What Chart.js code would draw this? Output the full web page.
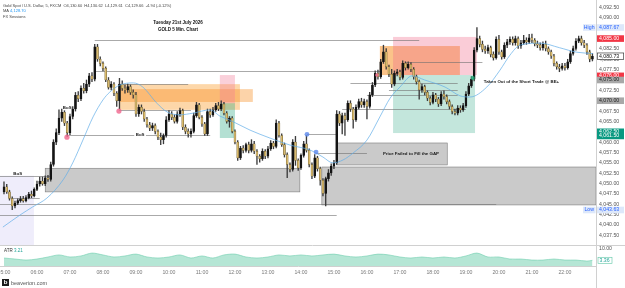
<!DOCTYPE html>
<html>
<head>
<meta charset="utf-8">
<script src="https://cdn.jsdelivr.net/npm/chart.js@4.4.1/dist/chart.umd.min.js"></script>
<style>
  html, body { margin: 0; padding: 0; background: #fff; overflow: hidden; }
  #wrap { position: relative; width: 625px; height: 288px; }
</style>
</head>
<body>
<div id="wrap"><canvas id="chart" width="625" height="288"></canvas></div>
<script>
// 5 min candles from 05:00, one row per hour
const opens = [
  4048.0,4049.2,4048.0,4046.4,4044.6,4045.3,4045.9,4046.3,4045.9,4046.6,4047.4,4047.0,
  4048.6,4049.9,4050.6,4050.0,4051.4,4051.0,4054.6,4060.0,4062.3,4065.8,4067.2,4064.6,
  4062.3,4066.2,4068.0,4071.3,4070.5,4073.0,4072.4,4074.0,4076.0,4075.2,4083.0,4080.0,
  4079.0,4077.8,4075.0,4073.2,4074.0,4071.8,4070.0,4074.0,4073.0,4072.6,4073.4,4072.0,
  4071.4,4066.8,4068.4,4067.4,4065.6,4064.2,4063.4,4064.0,4062.6,4061.2,4060.6,4061.6,
  4065.4,4066.8,4066.0,4065.0,4066.8,4067.6,4063.6,4062.6,4062.0,4062.6,4066.4,4069.0,
  4066.0,4064.4,4062.0,4067.4,4066.6,4067.8,4068.8,4068.0,4069.2,4067.0,4065.0,4065.8,
  4062.6,4060.0,4056.2,4058.6,4058.0,4059.4,4058.0,4059.6,4057.8,4056.6,4056.0,4057.8,
  4056.6,4058.4,4059.8,4059.0,4064.6,4061.6,4059.4,4057.0,4054.6,4053.4,4060.0,4055.6,
  4053.8,4056.8,4059.6,4058.0,4054.6,4051.8,4056.2,4053.6,4050.8,4047.6,4051.2,4052.6,
  4054.2,4055.0,4066.8,4064.6,4066.4,4065.4,4069.4,4068.0,4065.4,4068.4,4069.8,4069.0,
  4069.8,4068.6,4071.4,4073.8,4076.6,4075.8,4079.4,4081.8,4078.2,4076.4,4074.0,4076.6,
  4077.0,4075.6,4079.0,4078.0,4078.8,4077.6,4075.8,4074.6,4072.6,4073.4,4072.0,4070.6,
  4069.6,4071.4,4070.4,4069.2,4071.6,4071.0,4069.8,4068.6,4067.4,4067.0,4068.2,4067.8,
  4068.8,4071.6,4073.6,4075.2,4082.2,4085.0,4083.6,4082.4,4082.0,4082.8,4081.2,4080.4,
  4084.8,4081.8,4080.6,4083.4,4084.2,4084.8,4084.0,4085.0,4083.2,4084.0,4084.6,4084.2,
  4085.2,4084.6,4083.8,4083.4,4082.8,4083.6,4082.6,4081.8,4080.8,4079.0,4078.2,4077.8,
  4078.4,4078.0,4079.4,4081.4,4082.6,4084.4,4085.0,4084.0,4083.4,4081.8,4080.0
];
const highs = [
  4050.4,4049.8,4048.4,4046.8,4045.8,4046.3,4046.9,4046.9,4047.1,4047.9,4048.2,4049.0,
  4050.6,4051.6,4051.6,4051.9,4052.0,4055.2,4060.6,4063.2,4067.8,4068.0,4067.6,4065.0,
  4066.8,4068.6,4072.0,4072.2,4073.6,4074.2,4075.0,4076.6,4076.8,4083.6,4083.6,4080.6,
  4079.4,4078.2,4075.6,4074.6,4074.4,4072.2,4075.4,4074.8,4073.8,4074.0,4073.8,4072.6,
  4072.0,4069.0,4069.0,4068.0,4066.0,4064.8,4064.6,4064.4,4063.0,4062.2,4062.0,4066.2,
  4067.6,4067.4,4066.6,4067.4,4068.2,4068.0,4064.2,4063.2,4063.2,4067.0,4069.6,4069.4,
  4066.4,4064.8,4068.0,4068.0,4068.4,4069.4,4069.6,4070.0,4069.6,4067.4,4066.2,4066.2,
  4063.0,4060.4,4059.0,4059.2,4059.8,4060.0,4060.6,4060.2,4058.2,4057.0,4058.4,4058.2,
  4059.0,4060.4,4060.2,4065.4,4065.0,4062.0,4059.8,4057.4,4055.0,4060.6,4061.4,4056.0,
  4057.2,4060.2,4061.6,4058.4,4055.0,4057.0,4056.6,4054.0,4051.2,4051.6,4053.4,4054.8,
  4055.6,4067.6,4067.4,4067.0,4067.0,4070.0,4070.0,4068.4,4069.0,4070.4,4070.6,4070.4,
  4070.2,4072.0,4074.4,4077.2,4077.4,4080.0,4083.4,4082.6,4078.6,4077.6,4077.2,4077.6,
  4077.4,4079.6,4079.4,4079.4,4079.2,4078.0,4076.2,4075.0,4074.0,4073.8,4072.4,4071.0,
  4072.0,4071.8,4070.8,4072.2,4072.4,4071.4,4070.2,4069.0,4068.0,4068.8,4068.8,4069.4,
  4072.2,4074.2,4075.8,4082.8,4087.67,4085.6,4084.4,4083.2,4083.4,4083.2,4081.8,4085.4,
  4085.8,4082.2,4084.0,4084.8,4085.4,4085.4,4085.6,4085.4,4084.6,4085.8,4085.2,4086.0,
  4086.1,4085.0,4084.4,4084.0,4084.2,4084.4,4083.0,4082.2,4081.2,4079.4,4078.8,4079.0,
  4079.0,4080.0,4082.0,4083.2,4085.0,4085.6,4085.6,4084.6,4083.8,4082.2,4081.4
];
const lows = [
  4047.5,4047.6,4046.0,4043.7,4044.1,4044.9,4045.5,4045.5,4045.6,4046.3,4046.6,4046.8,
  4048.3,4049.4,4049.6,4049.5,4050.5,4050.6,4054.2,4059.4,4061.8,4065.0,4064.0,4061.4,
  4061.8,4065.6,4067.5,4069.8,4070.0,4071.8,4071.9,4073.4,4074.6,4074.8,4079.5,4078.4,
  4077.2,4074.6,4072.8,4072.6,4071.2,4068.6,4068.0,4072.5,4071.8,4072.0,4071.5,4070.6,
  4066.2,4066.2,4066.8,4065.0,4063.6,4062.8,4062.8,4062.0,4060.6,4059.4,4059.6,4061.2,
  4065.0,4065.4,4064.6,4064.6,4066.2,4063.0,4062.0,4061.2,4061.2,4062.2,4066.0,4065.6,
  4063.8,4061.6,4061.6,4066.0,4066.2,4067.4,4067.6,4067.6,4066.6,4064.6,4063.6,4062.2,
  4059.6,4055.6,4055.8,4057.4,4057.6,4057.4,4057.6,4057.2,4054.6,4055.2,4055.6,4056.0,
  4056.2,4058.0,4058.4,4058.6,4061.2,4059.0,4056.4,4051.4,4052.8,4053.0,4054.4,4053.2,
  4053.4,4056.4,4057.6,4054.0,4051.2,4051.4,4053.0,4049.6,4047.0,4044.6,4050.6,4052.0,
  4053.6,4054.6,4064.0,4062.0,4061.6,4065.0,4067.4,4063.4,4065.0,4068.0,4068.4,4068.4,
  4065.6,4068.2,4071.0,4073.4,4075.2,4075.4,4079.0,4077.6,4075.8,4073.2,4073.6,4076.0,
  4075.0,4075.2,4077.4,4077.6,4077.0,4075.2,4074.0,4070.4,4072.0,4071.4,4070.0,4069.0,
  4069.2,4069.8,4068.6,4068.8,4070.4,4069.2,4068.0,4066.8,4066.6,4066.6,4067.2,4067.4,
  4068.4,4071.2,4073.2,4074.8,4081.8,4083.0,4081.8,4081.4,4081.4,4080.6,4079.8,4080.0,
  4081.2,4080.0,4080.2,4082.8,4083.6,4083.4,4083.4,4082.6,4082.6,4083.6,4083.6,4083.8,
  4084.0,4083.2,4082.8,4082.2,4082.2,4082.0,4081.2,4080.2,4078.4,4077.6,4077.0,4077.4,
  4077.4,4077.6,4079.0,4081.0,4082.2,4084.0,4083.4,4082.8,4081.2,4079.4,4079.6
];
const closes = [
  4049.2,4048.0,4046.4,4044.6,4045.3,4045.9,4046.3,4045.9,4046.6,4047.4,4047.0,4048.6,
  4049.9,4050.6,4050.0,4051.4,4051.0,4054.6,4060.0,4062.3,4065.8,4067.2,4064.6,4062.3,
  4066.2,4068.0,4071.3,4070.5,4073.0,4072.4,4074.0,4076.0,4075.2,4083.0,4080.0,4079.0,
  4077.8,4075.0,4073.2,4074.0,4071.8,4070.0,4074.0,4073.0,4072.6,4073.4,4072.0,4071.4,
  4066.8,4068.4,4067.4,4065.6,4064.2,4063.4,4064.0,4062.6,4061.2,4060.6,4061.6,4065.4,
  4066.8,4066.0,4065.0,4066.8,4067.6,4063.6,4062.6,4062.0,4062.6,4066.4,4069.0,4066.0,
  4064.4,4062.0,4067.4,4066.6,4067.8,4068.8,4068.0,4069.2,4067.0,4065.0,4065.8,4062.6,
  4060.0,4056.2,4058.6,4058.0,4059.4,4058.0,4059.6,4057.8,4056.6,4056.0,4057.8,4056.6,
  4058.4,4059.8,4059.0,4064.6,4061.6,4059.4,4057.0,4054.6,4053.4,4060.0,4055.6,4053.8,
  4056.8,4059.6,4058.0,4054.6,4051.8,4056.2,4053.6,4050.8,4047.6,4051.2,4052.6,4054.2,
  4055.0,4066.8,4064.6,4066.4,4065.4,4069.4,4068.0,4065.4,4068.4,4069.8,4069.0,4069.8,
  4068.6,4071.4,4073.8,4076.6,4075.8,4079.4,4081.8,4078.2,4076.4,4074.0,4076.6,4077.0,
  4075.6,4079.0,4078.0,4078.8,4077.6,4075.8,4074.6,4072.6,4073.4,4072.0,4070.6,4069.6,
  4071.4,4070.4,4069.2,4071.6,4071.0,4069.8,4068.6,4067.4,4067.0,4068.2,4067.8,4068.8,
  4071.6,4073.6,4075.2,4082.2,4085.0,4083.6,4082.4,4082.0,4082.8,4081.2,4080.4,4084.8,
  4081.8,4080.6,4083.4,4084.2,4084.8,4084.0,4085.0,4083.2,4084.0,4084.6,4084.2,4085.2,
  4084.6,4083.8,4083.4,4082.8,4083.6,4082.6,4081.8,4080.8,4079.0,4078.2,4077.8,4078.4,
  4078.0,4079.4,4081.4,4082.6,4084.4,4085.0,4084.0,4083.4,4081.8,4080.0,4080.73
];

// moving average (bar index, price)
const maIdx = [-0.4, 5.8, 10.5, 15.6, 21.5, 25, 28.7, 32.4, 36, 38.5, 42.2, 47, 50.5, 55.6, 59.3, 64, 68.7, 75,
  78.5, 82.2, 89.5, 96.7, 104, 111.3, 116, 119.6, 123.3, 127, 132, 136.7, 140.4, 144, 148.4, 153, 160.4,
  165.8, 169.5, 175.6, 180.4, 184, 187.6, 195, 202, 208.4, 214.2];
const maVal = [4039.5, 4042.4, 4044.4, 4046.5, 4050.9, 4055.0, 4060.5, 4066.1, 4070.2, 4072.1, 4073.8, 4074.3,
  4073.3, 4069.4, 4067.3, 4066.6, 4067.0, 4067.8, 4066.3, 4065.3, 4062.9, 4061.0, 4059.3, 4058.1, 4056.4,
  4055.0, 4055.7, 4057.4, 4060.5, 4066.1, 4070.6, 4073.3, 4076.0, 4075.0, 4073.3, 4071.2, 4070.9, 4073.3,
  4077.4, 4081.0, 4083.4, 4083.9, 4082.8, 4081.7, 4081.4];

// ATR pane
const atrIdx = [0, 4, 8, 12, 16, 20, 24, 28, 32, 36, 40, 44, 48, 52, 56, 60, 64, 68, 72, 76, 80, 84, 88, 92,
  96, 100, 104, 108, 112, 116, 120, 124, 128, 132, 136, 140, 144, 148, 152, 156, 160, 164, 168, 172, 176,
  180, 184, 188, 192, 196, 200, 204, 208, 212, 214];
const atrVal = [4.7, 4.1, 3.5, 4.1, 5.3, 6.5, 5.3, 5.9, 7.6, 6.5, 5.3, 5.9, 7.0, 5.3, 4.7, 5.3, 6.5, 4.7, 5.9,
  4.7, 6.5, 7.0, 5.3, 4.7, 5.3, 6.5, 5.9, 6.5, 5.9, 6.5, 7.0, 5.9, 5.3, 5.9, 7.0, 6.5, 5.3, 4.7, 5.3, 4.7,
  5.3, 4.7, 5.9, 7.6, 5.3, 5.3, 4.1, 4.1, 3.5, 3.5, 4.1, 3.5, 3.5, 2.9, 3.36];

const priceMin = 4035.18, priceMax = 4094.31;
const FONT = '"Liberation Sans", Arial, sans-serif';

// drawn zones (bar index range, price range)
const zones = [
  { from: -1.45, to: 10.9, top: 4051.9, bottom: priceMin, fill: 'rgba(150,135,230,0.15)' },
  { from: 15, to: 107.6, top: 4053.7, bottom: 4048.0, fill: 'rgba(150,150,150,0.5)', stroke: '#7d7d7d' },
  { from: 115.6, to: 215.3, top: 4054.0, bottom: 4044.85, fill: 'rgba(150,150,150,0.5)', stroke: '#7d7d7d' },
  { from: 121, to: 161.2, top: 4059.8, bottom: 4054.5, fill: 'rgba(150,150,150,0.5)', stroke: '#7d7d7d' },
  { from: 41.8, to: 85.8, top: 4074.0, bottom: 4067.8, fill: 'rgba(251,160,50,0.42)' },
  { from: 41.8, to: 90.5, top: 4072.8, bottom: 4069.7, fill: 'rgba(248,140,30,0.38)' },
  { from: 78.5, to: 84, top: 4076.2, bottom: 4069.4, fill: 'rgba(242,120,150,0.35)' },
  { from: 78.5, to: 84, top: 4069.4, bottom: 4061.0, fill: 'rgba(40,165,130,0.35)' },
  { from: 136.7, to: 165.8, top: 4083.2, bottom: 4076.2, fill: 'rgba(248,145,40,0.55)' },
  { from: 141.5, to: 172, top: 4085.4, bottom: 4076.2, fill: 'rgba(242,110,140,0.35)' },
  { from: 141.5, to: 171.3, top: 4076.2, bottom: 4062.2, fill: 'rgba(40,165,130,0.28)' }
];
const levels = [
  { from: -1.45, to: 16.7, at: 4051.9 },
  { from: 3.3, to: 13, at: 4046.5 },
  { from: -1.45, to: 179, at: 4045.0 },
  { from: -1.45, to: 121, at: 4042.4 },
  { from: 33, to: 151, at: 4084.65 },
  { from: 33, to: 137, at: 4077.2 },
  { from: 41.8, to: 67, at: 4074.0 },
  { from: 41.8, to: 68, at: 4067.8 },
  { from: 22.9, to: 75, at: 4061.7 },
  { from: 110.2, to: 121, at: 4061.9 },
  { from: 113.5, to: 132, at: 4057.3 },
  { from: 126, to: 165, at: 4074.3 },
  { from: 132, to: 165, at: 4071.4 },
  { from: 123, to: 168, at: 4068.0 },
  { from: 146, to: 174, at: 4079.3 },
  { from: 140, to: 165, at: 4072.6 }
];
const dots = [
  { i: 22.9, p: 4061.2, r: 2.6, c: 'rgba(240,100,140,0.8)' },
  { i: 41.8, p: 4067.5, r: 2.6, c: 'rgba(240,100,140,0.8)' },
  { i: 135.6, p: 4076.2, r: 1.8, c: 'rgba(240,100,140,0.8)' },
  { i: 110.2, p: 4061.9, r: 2.4, c: 'rgba(90,135,235,0.8)' },
  { i: 113.5, p: 4057.6, r: 2.4, c: 'rgba(90,135,235,0.8)' },
  { i: 170.5, p: 4075.5, r: 2.0, c: 'rgba(40,175,125,0.85)' }
];
const notes = [
  { i: 5, p: 4052.3, text: 'BoS', align: 'center' },
  { i: 23, p: 4068.4, text: 'BoS', align: 'center' },
  { i: 49.5, p: 4061.7, text: 'BoS', align: 'center', bg: true },
  { i: 137.8, p: 4057.3, text: 'Price Failed to Fill the GAP', align: 'left' },
  { i: 174.5, p: 4074.6, text: 'Taken Out of the Short Trade @ BE+', align: 'left' }
];
const axisTags = [
  { p: 4087.67, text: '4,087.67', bg: '#dde8fa', fg: '#2962ff' },
  { p: 4085.0, text: '4,085.00', bg: '#f23645', fg: '#fff' },
  { p: 4080.73, text: '4,080.73', bg: '#fff', fg: '#111', border: '#222' },
  { p: 4076.0, text: '4,076.00', bg: '#f23645', fg: '#fff' },
  { p: 4075.0, text: '4,075.00', bg: '#a8a8a8', fg: '#222' },
  { p: 4070.0, text: '4,070.00', bg: '#a8a8a8', fg: '#222' },
  { p: 4062.5, text: '4,062.50', bg: '#089981', fg: '#fff' },
  { p: 4061.5, text: '4,061.50', bg: '#089981', fg: '#fff' },
  { p: 4043.63, text: '4,043.63', bg: '#dde8fa', fg: '#2962ff' }
];

const idx = opens.map((_, i) => i);
const isUp = i => closes[i] >= opens[i];
const noPad = s => { s.paddingLeft = 0; s.paddingRight = 0; s.paddingTop = 0; s.paddingBottom = 0; };

const overlay = {
  id: 'overlay',
  beforeDatasetsDraw(chart) {
    const { ctx, chartArea: a, scales: { x, y } } = chart;
    ctx.save();
    ctx.beginPath();
    ctx.rect(a.left, y.top, a.right - a.left, y.bottom - y.top);
    ctx.clip();
    zones.forEach(z => {
      const x0 = x.getPixelForValue(z.from), x1 = x.getPixelForValue(z.to);
      const y0 = y.getPixelForValue(z.top), y1 = y.getPixelForValue(z.bottom);
      ctx.fillStyle = z.fill;
      ctx.fillRect(x0, y0, x1 - x0, y1 - y0);
      if (z.stroke) {
        ctx.strokeStyle = z.stroke;
        ctx.lineWidth = 0.6;
        ctx.strokeRect(x0, y0, x1 - x0, y1 - y0);
      }
    });
    ctx.strokeStyle = '#707070';
    ctx.lineWidth = 0.6;
    levels.forEach(l => {
      const py = Math.round(y.getPixelForValue(l.at)) + 0.5;
      ctx.beginPath();
      ctx.moveTo(x.getPixelForValue(l.from), py);
      ctx.lineTo(x.getPixelForValue(l.to), py);
      ctx.stroke();
    });
    ctx.restore();
  },
  afterDraw(chart) {
    const { ctx, chartArea: a, scales: { x, y, yAtr } } = chart;
    ctx.save();
    // pane separators and price axis border
    ctx.strokeStyle = '#d0d0d0';
    ctx.lineWidth = 1;
    ctx.beginPath();
    ctx.moveTo(0, Math.round(y.bottom) + 0.5); ctx.lineTo(625, Math.round(y.bottom) + 0.5);
    ctx.moveTo(Math.round(a.right) + 0.5, 0); ctx.lineTo(Math.round(a.right) + 0.5, 288);
    ctx.stroke();

    dots.forEach(d => {
      ctx.fillStyle = d.c;
      ctx.beginPath();
      ctx.arc(x.getPixelForValue(d.i), y.getPixelForValue(d.p), d.r, 0, Math.PI * 2);
      ctx.fill();
    });

    ctx.textBaseline = 'middle';
    notes.forEach(n => {
      ctx.font = 'bold 4.4px ' + FONT;
      const px = x.getPixelForValue(n.i), py = y.getPixelForValue(n.p);
      ctx.textAlign = n.align;
      if (n.bg) {
        const w = ctx.measureText(n.text).width + 3;
        ctx.fillStyle = '#fff';
        ctx.fillRect(px - w / 2, py - 3, w, 6);
      }
      ctx.fillStyle = '#1a1a1a';
      ctx.fillText(n.text, px, py);
    });

    // header
    ctx.textAlign = 'left';
    ctx.font = '4px ' + FONT;
    ctx.fillStyle = '#444';
    ctx.fillText('Gold Spot / U.S. Dollar, 5, FXCM  O4,130.60  H4,130.62  L4,129.61  C4,129.66  -4.94 (-0.12%)', 3, 5.5);
    ctx.fillText('MA', 3, 11);
    ctx.fillStyle = '#2196f3';
    ctx.fillText('4,128.70', 3 + ctx.measureText('MA ').width, 11);
    ctx.fillStyle = '#444';
    ctx.fillText('FX Sessions', 3, 16.5);
    ctx.textAlign = 'center';
    ctx.font = 'bold 4.5px ' + FONT;
    ctx.fillStyle = '#111';
    ctx.fillText('Tuesday 21st July 2026', 178, 23);
    ctx.fillText('GOLD 5 Min. Chart', 178, 30);

    // ATR legend
    ctx.textAlign = 'left';
    ctx.font = '4.5px ' + FONT;
    ctx.fillStyle = '#333';
    ctx.fillText('ATR', 4, yAtr.top + 6);
    ctx.fillStyle = '#26a69a';
    ctx.fillText('3.21', 4 + ctx.measureText('ATR ').width, yAtr.top + 6);

    // price axis tags
    ctx.font = '5.2px ' + FONT;
    const ax = a.right + 1;
    axisTags.forEach(t => {
      const py = y.getPixelForValue(t.p);
      ctx.fillStyle = t.bg;
      ctx.fillRect(ax, py - 3.3, 27, 6.6);
      if (t.border) {
        ctx.strokeStyle = t.border;
        ctx.lineWidth = 0.6;
        ctx.strokeRect(ax + 0.3, py - 3.3, 26.4, 6.6);
      }
      ctx.fillStyle = t.fg;
      ctx.fillText(t.text, ax + 2, py);
    });
    [['High', 4087.67], ['Low', 4043.63]].forEach(([label, p]) => {
      const py = y.getPixelForValue(p);
      ctx.fillStyle = '#dde8fa';
      ctx.fillRect(a.right - 13, py - 3.3, 12.5, 6.6);
      ctx.fillStyle = '#2962ff';
      ctx.textAlign = 'center';
      ctx.fillText(label, a.right - 6.8, py);
      ctx.textAlign = 'left';
    });
    const atrY = yAtr.getPixelForValue(atrVal[atrVal.length - 1]);
    ctx.fillStyle = '#fff';
    ctx.fillRect(ax + 1, atrY - 3, 14, 6);
    ctx.strokeStyle = '#5cc6a3';
    ctx.lineWidth = 0.6;
    ctx.strokeRect(ax + 1, atrY - 3, 14, 6);
    ctx.fillStyle = '#26a69a';
    ctx.fillText('3.36', ax + 2.5, atrY);

    // footer brand
    ctx.fillStyle = '#1b1b1b';
    ctx.fillRect(2, 279, 7, 7);
    ctx.fillStyle = '#fff';
    ctx.font = 'bold 6px ' + FONT;
    ctx.textAlign = 'center';
    ctx.fillText('b', 5.5, 282.8);
    ctx.textAlign = 'left';
    ctx.fillStyle = '#555';
    ctx.font = '5.5px ' + FONT;
    ctx.fillText('beaverion.com', 11, 283);
    ctx.restore();
  }
};

new Chart(document.getElementById('chart'), {
  type: 'bar',
  data: {
    datasets: [
      {
        type: 'line', label: 'MA', yAxisID: 'y', order: 0,
        data: maIdx.map((v, k) => ({ x: v, y: maVal[k] })),
        borderColor: '#62aee8', borderWidth: 0.7, pointRadius: 0,
        cubicInterpolationMode: 'monotone'
      },
      {
        type: 'bar', label: 'body', yAxisID: 'y', order: 1, grouped: false,
        data: idx.map(i => ({ x: i, y: [opens[i], closes[i]] })),
        backgroundColor: idx.map(i => isUp(i) ? '#141414' : '#d8b96c'),
        borderColor: idx.map(i => isUp(i) ? '#141414' : '#6b5a2c'),
        borderWidth: 0.5, borderSkipped: false, barThickness: 2, minBarLength: 0.8
      },
      {
        type: 'bar', label: 'wick', yAxisID: 'y', order: 2, grouped: false,
        data: idx.map(i => ({ x: i, y: [lows[i], highs[i]] })),
        backgroundColor: '#3c3c3c', barThickness: 0.7
      },
      {
        type: 'line', label: 'ATR', yAxisID: 'yAtr', order: 3,
        data: atrIdx.map((v, k) => ({ x: v, y: atrVal[k] })),
        borderColor: '#6fcfae', borderWidth: 0.6, pointRadius: 0, tension: 0.3,
        fill: 'origin', backgroundColor: 'rgba(120,210,178,0.55)'
      }
    ]
  },
  options: {
    responsive: false,
    animation: false,
    layout: { padding: { left: 0, right: 0, top: 0, bottom: 12 } },
    plugins: { legend: { display: false }, tooltip: { enabled: false } },
    scales: {
      x: {
        type: 'linear', position: 'bottom', min: -1.45, max: 215.3, offset: false,
        grid: { display: false, drawTicks: false, offset: false },
        border: { display: true, color: '#cfcfcf' },
        afterFit: s => { s.height = 10; noPad(s); },
        ticks: {
          stepSize: 12, includeBounds: false, autoSkip: false, maxRotation: 0, padding: 3,
          color: '#7a7a7a', font: { family: FONT, size: 5.2 },
          callback: v => String(5 + Math.round(v / 12)).padStart(2, '0') + ':00'
        }
      },
      y: {
        type: 'linear', position: 'right', stack: 'panes', stackWeight: 245,
        min: priceMin, max: priceMax,
        grid: { display: false, drawTicks: false },
        border: { display: false },
        afterFit: s => { s.width = 29; noPad(s); },
        ticks: {
          stepSize: 2.5, includeBounds: false, autoSkip: false, padding: 3,
          color: '#555', font: { family: FONT, size: 5.2 },
          callback: v => v.toLocaleString('en-US', { minimumFractionDigits: 2, maximumFractionDigits: 2 })
        }
      },
      yAtr: {
        type: 'linear', position: 'right', stack: 'panes', stackWeight: 21,
        min: 0, max: 12.35,
        grid: { display: false, drawTicks: false },
        border: { display: false },
        afterFit: s => { s.width = 29; noPad(s); },
        afterBuildTicks: s => { s.ticks = [{ value: 10 }]; },
        ticks: {
          padding: 3, color: '#555', font: { family: FONT, size: 5.2 },
          callback: v => v.toFixed(2)
        }
      }
    }
  },
  plugins: [overlay]
});
</script>
</body>
</html>
